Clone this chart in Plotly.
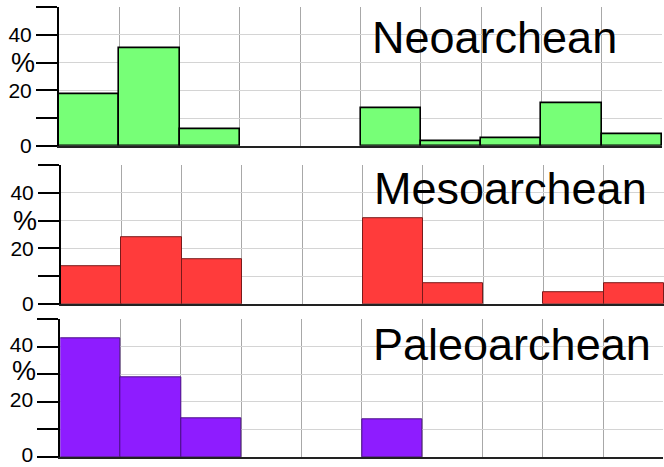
import plotly.graph_objects as go

W, H = 664, 467

# Percentage of samples per bin (10 equal bins) for each era
bins = [0.5, 1.5, 2.5, 3.5, 4.5, 5.5, 6.5, 7.5, 8.5, 9.5]
neoarchean = [18.6, 35.2, 5.9, 0, 0, 13.4, 1.7, 2.7, 15.2, 4.3]
mesoarchean = [13.4, 24.0, 16.0, 0, 0, 30.9, 7.4, 0, 4.1, 7.4]
paleoarchean = [43.0, 28.9, 13.9, 0, 0, 13.7, 0, 0, 0, 0]

era_names = ["Neoarchean", "Mesoarchean", "Paleoarchean"]
y_tickvals = [0, 10, 20, 30, 40, 50]
y_ticktext = ["0", "", "20", "", "40", ""]

panels = [
    dict(name=era_names[0], values=neoarchean, color="#77FF77", line="#000000", lw=1.6,
         left=59, top=7.2, bottom=145.7, title_x=370, title_yc=37.2, lab_shift=0, pct_shift=0),
    dict(name=era_names[1], values=mesoarchean, color="#FF3B3B", line="#7a1a1a", lw=1.0,
         left=61, top=165.2, bottom=303.7, title_x=372, title_yc=188.8, lab_shift=0, pct_shift=0),
    dict(name=era_names[2], values=paleoarchean, color="#8E1CFF", line="#4a0f88", lw=1.0,
         left=60.3, top=319.3, bottom=457.0, title_x=371, title_yc=344.8, lab_shift=-2, pct_shift=3),
]
PLOT_W = 603

fig = go.Figure()
layout = dict(
    width=W, height=H,
    margin=dict(l=0, r=0, t=0, b=0, pad=0, autoexpand=False),
    paper_bgcolor="white", plot_bgcolor="white",
    showlegend=False, bargap=0,
    font=dict(family="Liberation Sans, Arial, sans-serif", color="black"),
)
annotations = []

for i, p in enumerate(panels, start=1):
    xa = "x" if i == 1 else f"x{i}"
    ya = "y" if i == 1 else f"y{i}"
    # empty bins are left undrawn so no outline sits on the baseline
    heights = [v if v > 0 else None for v in p["values"]]
    fig.add_trace(go.Bar(
        x=bins, y=heights, width=1,
        marker=dict(color=p["color"], line=dict(color=p["line"], width=p["lw"])),
        xaxis=xa, yaxis=ya, hoverinfo="skip",
    ))
    x0 = p["left"] / W
    x1 = min((p["left"] + PLOT_W) / W, 1.0)
    y0 = 1 - p["bottom"] / H
    y1 = 1 - p["top"] / H
    layout["xaxis" if i == 1 else f"xaxis{i}"] = dict(
        domain=[x0, x1], range=[0, 10], anchor=ya, automargin=False,
        tickvals=list(range(11)), showticklabels=False, ticks="",
        showgrid=True, gridcolor="#a8a8a8", gridwidth=1,
        showline=True, linecolor="#222222", linewidth=1.6,
        zeroline=False, fixedrange=True,
    )
    layout["yaxis" if i == 1 else f"yaxis{i}"] = dict(
        domain=[y0, y1], range=[0, 50], anchor=xa, automargin=False,
        tickvals=y_tickvals, ticktext=y_ticktext, ticklabeloverflow="allow",
        ticklabelshift=p["lab_shift"],
        ticks="outside", ticklen=21, tickwidth=1.5, tickcolor="black",
        tickfont=dict(size=21, color="black"),
        showgrid=True, gridcolor="#d4d4d4", gridwidth=1,
        showline=True, linecolor="black", linewidth=2,
        zeroline=False, fixedrange=True,
    )
    # unit label beside the 30 % tick
    annotations.append(dict(
        text="%", xref="paper", yref=ya, x=(p["left"] - 36) / W, y=30,
        yshift=p["pct_shift"],
        xanchor="center", yanchor="middle", showarrow=False,
        font=dict(size=27, color="black"),
    ))
    # era name in the upper right of each panel
    annotations.append(dict(
        text=p["name"], xref="paper", yref="paper",
        x=p["title_x"] / W, y=1 - p["title_yc"] / H,
        xanchor="left", yanchor="middle", showarrow=False,
        font=dict(size=45, color="black"),
    ))

layout["annotations"] = annotations
fig.update_layout(**layout)
fig.write_html("out.html")
